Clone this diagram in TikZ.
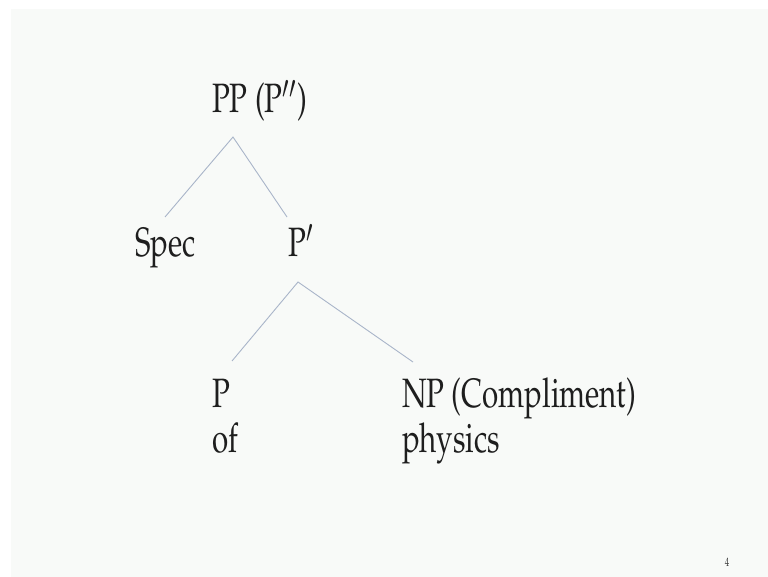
\documentclass[tikz,border=0pt]{standalone}
\usepackage[T1]{fontenc}
\usepackage{mathpazo}
\usepackage{graphicx}
\definecolor{bgc}{HTML}{F8FAF8}
\definecolor{edgec}{HTML}{A9B5C9}
\definecolor{txtc}{HTML}{1E1E1E}
\newcommand{\sqz}[1]{\scalebox{0.72}[1]{#1}}
\tikzset{
  lbl/.style={inner sep=0pt, outer sep=0pt, anchor=base west, text=txtc, font=\fontsize{41}{45}\selectfont},
  edge/.style={draw=edgec, line width=0.9pt},
  pagenum/.style={inner sep=0pt, text=txtc!85, font=\fontsize{11}{13}\selectfont}
}
\begin{document}
\begin{tikzpicture}[x=1pt,y=-1pt]
\useasboundingbox (0,0) rectangle (768,577);
\fill[bgc] (11,9) rectangle (768,577);
% labels
\node[lbl] (pp) at (212,113) {\sqz{PP (P$''$)}};
\node[lbl] (spec) at (135,257) {\sqz{Spec}};
\node[lbl] (pbar) at (288,257) {\sqz{P$'$}};
\node[lbl, align=left] (p) at (212,452) {\sqz{P}\\\sqz{of}};
\node[lbl, align=left] (np) at (402,452) {\sqz{NP (Compliment)}\\\sqz{physics}};
\node[pagenum] (pg) at (727,562) {\scalebox{0.8}[1.1]{4}};
% connector ends
\coordinate (ppTop) at (233,137);
\coordinate (specEnd) at (165,217);
\coordinate (pbarEnd) at (287,217);
\coordinate (pbarTop) at (298,282);
\coordinate (pEnd) at (232,361);
\coordinate (npEnd) at (413,362);
\draw[edge] (specEnd) -- (ppTop) -- (pbarEnd);
\draw[edge] (pEnd) -- (pbarTop) -- (npEnd);
\end{tikzpicture}
\end{document}
